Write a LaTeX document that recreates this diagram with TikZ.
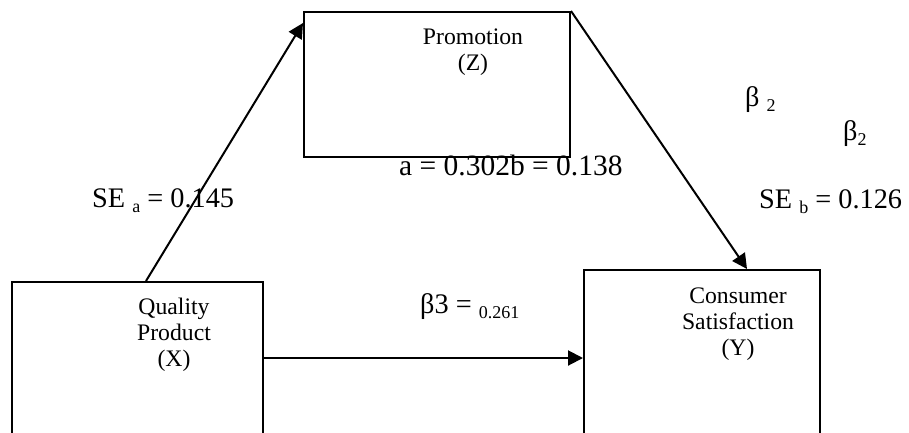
\documentclass[tikz,border=0pt]{standalone}
\usepackage{fontspec}
\setmainfont{Liberation Serif}
\usetikzlibrary{arrows.meta}

% sizes used in the path diagram
\newcommand{\boxfont}{\fontsize{23.7}{26}\selectfont}
\newcommand{\edgefont}{\fontsize{28.3}{31}\selectfont}
\newcommand{\widefont}{\fontsize{29.5}{32}\selectfont}
\newcommand{\subtxt}[1]{\raisebox{-5pt}{\fontsize{18}{18}\selectfont #1}}

\begin{document}
\begin{tikzpicture}[x=1pt,y=-1pt,
  varbox/.style={draw, line width=2pt, anchor=north west, inner sep=0pt},
  boxtext/.style={font=\boxfont, align=center, anchor=base, inner sep=0pt},
  coef/.style={font=\edgefont, anchor=base west, inner sep=0pt},
  path/.style={line width=2pt, -{Triangle[length=15pt,width=15pt]}}]
\useasboundingbox (0,0) rectangle (909,432);

% variables
\node[varbox, minimum width=251pt, minimum height=152pt] (X) at (11,281) {};
\node[varbox, minimum width=266pt, minimum height=145pt] (Z) at (303,11) {};
\node[varbox, minimum width=236pt, minimum height=176pt] (Y) at (583,269) {};

% variable names (anchored at the baseline of their last line)
\node[boxtext] (Xt) at (174,366) {Quality\\Product\\(X)};
\node[boxtext] (Zt) at (473,70) {Promotion\\(Z)};
\node[boxtext] (Yt) at (738,355) {Consumer\\Satisfaction\\(Y)};

% paths
\draw[path] ([xshift=135pt]X.north west) -- ([yshift=-12pt]Z.north west);
\draw[path] (Z.north east) -- ([xshift=164pt]Y.north west);
\draw[path] (X.east) -- (Y.west);

% coefficients
\node[coef] (sea) at (92,207) {SE \subtxt{a} = 0.145};
\node[coef, font=\widefont] (ab) at (399,175) {a = 0.302b = 0.138};
\node[coef] (seb) at (759,208) {SE \subtxt{b} = 0.126};
\node[coef] (b2a) at (745,106) {β \subtxt{2}};
\node[coef] (b2b) at (843,140) {β\subtxt{2}};
\node[coef] (b3) at (420,313) {β3 = \subtxt{0.261}};
\end{tikzpicture}
\end{document}
